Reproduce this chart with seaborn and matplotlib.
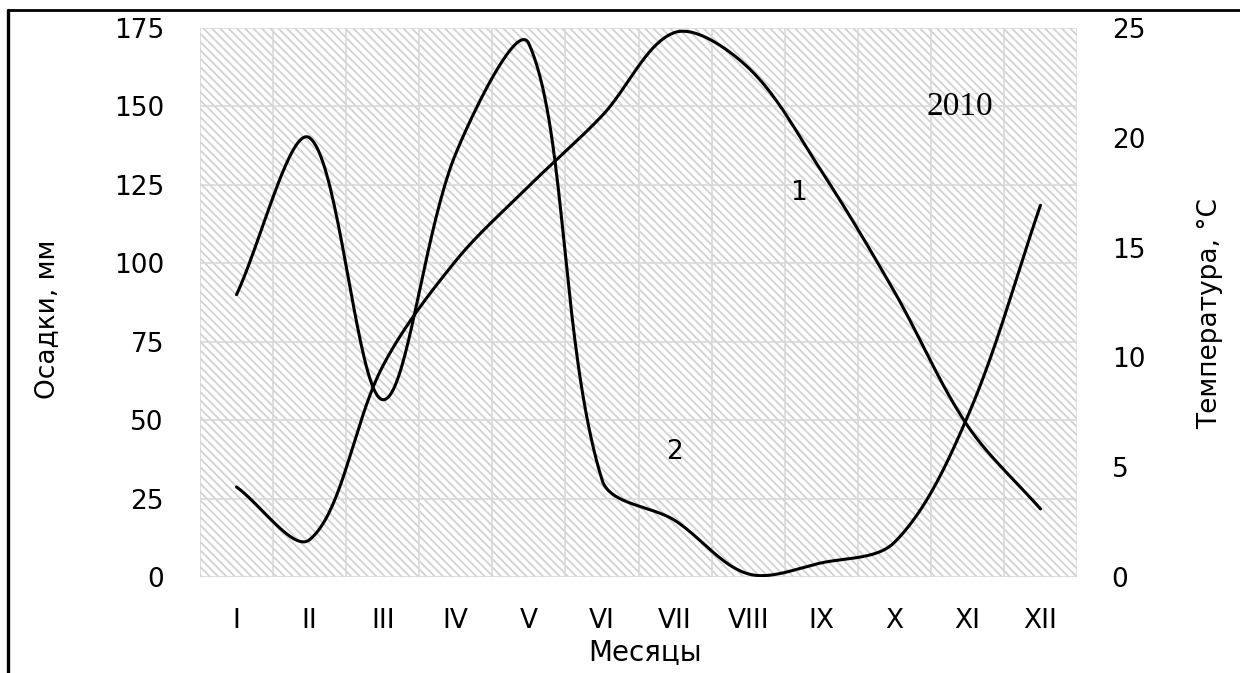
# Осадки и температура по месяцам, 2010
import numpy as np
import pandas as pd
import seaborn as sns
import matplotlib
matplotlib.use('Agg')
from matplotlib import pyplot as plt
from matplotlib.patches import Rectangle
from matplotlib.lines import Line2D

months = ['I', 'II', 'III', 'IV', 'V', 'VI', 'VII', 'VIII', 'IX', 'X', 'XI', 'XII']
# кривая 2 - осадки, мм (левая ось)
precip = [90, 140, 56.5, 135, 170, 31, 18, 1, 4.5, 11, 51, 118.5]
# кривая 1 - температура, °C (правая ось)
temp = [4.1, 1.7, 9.6, 14.4, 17.8, 21.0, 24.8, 23.2, 18.5, 13.0, 6.9, 3.1]

grid_c = '#d9d9d9'


def smooth(a, vals, n=40):
    # сглаженная линия в духе Excel: кривые Безье в экранных координатах
    pts = a.transData.transform(np.column_stack([np.arange(len(vals)), vals]))
    last = len(pts) - 1
    out = [pts[0]]
    for i in range(last):
        p0 = pts[max(i - 1, 0)]
        p1, p2 = pts[i], pts[i + 1]
        p3 = pts[min(i + 2, last)]
        d01 = np.hypot(*(p1 - p0))
        d12 = np.hypot(*(p2 - p1))
        d23 = np.hypot(*(p3 - p2))
        c1 = p1 + (p2 - p0) * (d12 / (d01 + d12)) / 3
        c2 = p2 - (p3 - p1) * (d12 / (d12 + d23)) / 3
        t = np.linspace(0, 1, n)[1:, None]
        seg = ((1 - t)**3 * p1 + 3 * (1 - t)**2 * t * c1
               + 3 * (1 - t) * t**2 * c2 + t**3 * p2)
        out.extend(seg)
    xy = a.transData.inverted().transform(np.array(out))
    return pd.DataFrame({'x': xy[:, 0], 'y': xy[:, 1]})


sns.set_style('white')
plt.rcParams['font.family'] = ['DejaVu Sans']
plt.rcParams['hatch.linewidth'] = 1.3
for k in ('text.color', 'axes.labelcolor', 'xtick.color', 'ytick.color'):
    plt.rcParams[k] = 'black'

fig = plt.figure(figsize=(12.4, 6.73), dpi=100)
ax = fig.add_axes([200 / 1240, 1 - 577 / 673, 877 / 1240, 549 / 673])
ax2 = ax.twinx()

ax.set_xlim(-0.5, 11.5)
ax.set_ylim(0, 175)
ax2.set_ylim(0, 25)

# заштрихованный фон области построения
ax.add_patch(Rectangle((0, 0), 1, 1, transform=ax.transAxes, facecolor='white',
                       edgecolor='#d2d2d2', hatch='\\\\\\\\', lw=0, zorder=0.2))
ax.set_axisbelow(True)

sns.lineplot(data=smooth(ax, precip), x='x', y='y', ax=ax, color='black',
             lw=2.2, estimator=None, sort=False)
sns.lineplot(data=smooth(ax2, temp), x='x', y='y', ax=ax2, color='black',
             lw=2.2, estimator=None, sort=False)

ax.set_xlim(-0.5, 11.5)
ax.set_ylim(0, 175)
ax2.set_ylim(0, 25)
ax.set_yticks(np.arange(0, 176, 25))
ax2.set_yticks(np.arange(0, 26, 5))
ax.set_xticks(range(12))
ax.set_xticklabels(months)
ax.set_xticks(np.arange(-0.5, 12, 1), minor=True)

ax.grid(which='minor', axis='x', color=grid_c, lw=1.2)
ax.grid(which='major', axis='y', color=grid_c, lw=1.2)
ax.grid(which='major', axis='x', visible=False)

ax.tick_params(axis='x', which='major', length=0, pad=22, labelsize=19)
ax.tick_params(axis='x', which='minor', length=7.5, width=1.2, color=grid_c)
ax.tick_params(axis='y', length=0, pad=26, labelsize=19)
ax2.tick_params(axis='y', length=0, pad=25, labelsize=19)

for a in (ax, ax2):
    for s in a.spines.values():
        s.set_visible(False)
    a.set_xlabel('')
    a.set_ylabel('')

ax.set_xlabel('Месяцы', fontsize=20, va='center')
ax.xaxis.set_label_coords(0.507, -0.137)
ax.set_ylabel('Осадки, мм', fontsize=19, va='center')
ax.yaxis.set_label_coords(-0.1745, 0.47)
ax2.set_ylabel('Температура, °C', fontsize=19, va='center')
ax2.yaxis.set_label_coords(1.1517, 0.48)

# подписи кривых
ax.text(7.69, 122.5, '1', fontsize=19, ha='center', va='center')
ax.text(5.99, 40, '2', fontsize=19, ha='center', va='center')
ax.text(9.9, 150, '2010', fontsize=24, ha='center', va='center',
        family=['Liberation Serif', 'DejaVu Serif'])

# рамка слева и сверху
fig.add_artist(Line2D([7.5 / 1240, 1], [1 - 9.5 / 673] * 2, color='black', lw=2))
fig.add_artist(Line2D([7.5 / 1240] * 2, [0, 1 - 9.5 / 673], color='black', lw=2.4))

fig.savefig('out.png', dpi=100)
